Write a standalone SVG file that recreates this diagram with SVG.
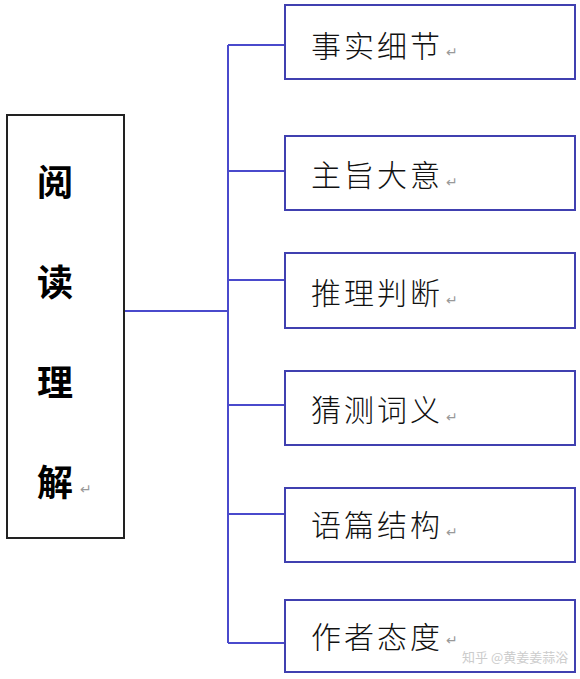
<svg xmlns="http://www.w3.org/2000/svg" width="580" height="679" viewBox="0 0 580 679">
<style>
.box{fill:#fff;stroke:#4040b0;stroke-width:2}
.main{fill:#fff;stroke:#222;stroke-width:2}
.con{fill:none;stroke:#4a4acc;stroke-width:2}
.t{font-family:"Noto Sans CJK SC","Noto Sans",sans-serif;font-size:30px;fill:#111;font-weight:300;letter-spacing:3px}
.m{font-family:"Noto Sans CJK SC","Noto Sans",sans-serif;font-size:36px;fill:#000;font-weight:700;text-anchor:middle}
.r{font-family:"DejaVu Sans",sans-serif;font-size:14px;fill:#999}
.w{font-family:"Noto Sans CJK SC",sans-serif;font-size:13px;fill:#ccc}
</style>
<rect width="580" height="679" fill="#fff"/>
<g id="connectors">
<path class="con" d="M124 311H228M228 45V643M228 45H285M228 171H285M228 280H285M228 405H285M228 514H285M228 643H285"/>
</g>
<g id="main">
<rect class="main" x="7" y="115" width="117" height="423"/>
<text class="m" x="55" y="196">阅</text>
<text class="m" x="55" y="296">读</text>
<text class="m" x="55" y="396">理</text>
<text class="m" x="55" y="496">解</text>
<text class="r" x="80" y="494">↵</text>
</g>
<g id="n1"><rect class="box" x="285" y="5" width="290" height="74"/><text class="t" x="311" y="57">事实细节</text><text class="r" x="446" y="57">↵</text></g>
<g id="n2"><rect class="box" x="285" y="136" width="290" height="74"/><text class="t" x="311" y="186">主旨大意</text><text class="r" x="446" y="187">↵</text></g>
<g id="n3"><rect class="box" x="285" y="253" width="290" height="75"/><text class="t" x="311" y="304">推理判断</text><text class="r" x="446" y="305">↵</text></g>
<g id="n4"><rect class="box" x="285" y="371" width="290" height="74"/><text class="t" x="311" y="421">猜测词义</text><text class="r" x="446" y="422">↵</text></g>
<g id="n5"><rect class="box" x="285" y="488" width="290" height="74"/><text class="t" x="311" y="536">语篇结构</text><text class="r" x="446" y="537">↵</text></g>
<g id="n6"><rect class="box" x="285" y="600" width="290" height="72"/><text class="t" x="311" y="648">作者态度</text><text class="r" x="446" y="645">↵</text></g>
<text class="w" x="462" y="662">知乎 @黄姜姜蒜浴</text>
</svg>
